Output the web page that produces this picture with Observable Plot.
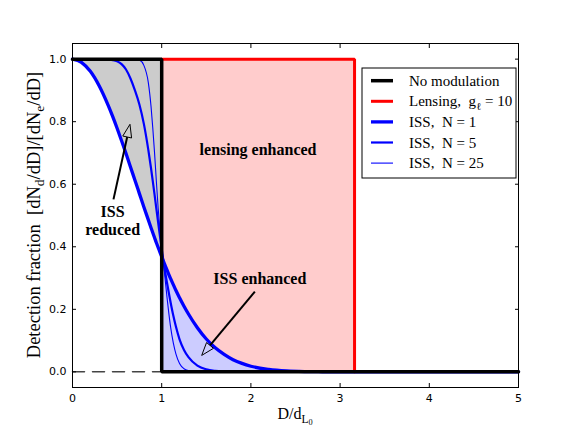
<!DOCTYPE html>
<html>
<head>
<meta charset="utf-8">
<script src="https://cdn.jsdelivr.net/npm/d3@7"></script>
<script src="https://cdn.jsdelivr.net/npm/@observablehq/plot@0.6"></script>
<style>
  body { margin: 0; background: #fff; }
  #chart { position: relative; width: 576px; height: 432px; }
  .rich { white-space: pre; }
</style>
</head>
<body>
<div id="chart"></div>
<script>
// Distance in units of the unmodulated detection limit, D / d_L0
const D = [0, 0.1, 0.2, 0.3, 0.4, 0.45, 0.5, 0.55, 0.6, 0.65, 0.7, 0.75, 0.8, 0.85,
  0.88, 0.9, 0.92, 0.94, 0.96, 0.98, 1.0, 1.02, 1.04, 1.06, 1.08, 1.1,
  1.13, 1.16, 1.2, 1.25, 1.3, 1.4, 1.5, 1.6, 1.7, 1.8, 1.9, 2.0,
  2.2, 2.4, 2.6, 2.8, 3.0, 3.162, 3.5, 4.0, 5.0];

// Detection fraction under interstellar scintillation, N independent scintles
const issN1 = [1.000, 0.990, 0.961, 0.914, 0.852, 0.817, 0.779, 0.739, 0.698, 0.655, 0.613, 0.570, 0.527, 0.486,
  0.461, 0.445, 0.429, 0.413, 0.398, 0.383, 0.368, 0.353, 0.339, 0.325, 0.311, 0.298,
  0.279, 0.260, 0.237, 0.210, 0.185, 0.141, 0.105, 0.077, 0.056, 0.039, 0.027, 0.018,
  0.008, 0.003, 0.001, 0.0004, 0.0001, 0, 0, 0, 0];
const issN5 = [1, 1, 1, 1, 0.999, 0.997, 0.993, 0.984, 0.967, 0.938, 0.900, 0.855, 0.793, 0.710,
  0.652, 0.610, 0.567, 0.522, 0.478, 0.435, 0.393, 0.353, 0.317, 0.284, 0.252, 0.222,
  0.180, 0.144, 0.104, 0.070, 0.047, 0.020, 0.008, 0.003, 0.001, 0.0003, 0, 0,
  0, 0, 0, 0, 0, 0, 0, 0, 0];
const issN25 = [1, 1, 1, 1, 1, 1, 1, 1, 1, 1, 1, 0.997, 0.980, 0.925,
  0.850, 0.780, 0.700, 0.610, 0.525, 0.455, 0.400, 0.350, 0.292, 0.237, 0.187, 0.143,
  0.093, 0.057, 0.027, 0.010, 0.004, 0.0005, 0, 0, 0, 0, 0, 0,
  0, 0, 0, 0, 0, 0, 0, 0, 0];

// Step responses: no modulation, and lensing with gain g = 10 (cut-off at sqrt(10))
const noModD = [0, 1, 1, 5];
const noModFrac = [1, 1, 0, 0];
const lensD = [1, 3.162, 3.162];
const lensFrac = [1, 1, 0];
const baselineD = [0, 1];
const baselineFrac = [0, 0];

// Axis ticks
const xTicks = [0, 1, 2, 3, 4, 5];
const yTicks = [0, 0.2, 0.4, 0.6, 0.8, 1.0];

// Labels
const xLabel = "D/d_{L_{0}}";
const yLabel = "Detection fraction  [dN_{d}/dD]/[dN_{e}/dD]";
const legendLabels = ["No modulation", "Lensing,  g_{ℓ} = 10", "ISS,  N = 1", "ISS,  N = 5", "ISS,  N = 25"];

// Annotations (text anchor and arrow tail/tip in data units)
const noteText = ["lensing enhanced", "ISS\nreduced", "ISS enhanced"];
const noteD = [2.08, 0.45, 2.1];
const noteFrac = [0.71, 0.484, 0.30];
const arrowTailD = [0.465, 2.05];
const arrowTailFrac = [0.55, 0.255];
const arrowTipD = [0.65, 1.454];
const arrowTipFrac = [0.79, 0.051];

// ---- drawing ----
const rows = D.map((d, i) => ({D: d, n1: issN1[i], n5: issN5[i], n25: issN25[i]}));
const pts = (xs, ys) => xs.map((x, i) => ({x, y: ys[i]}));
const notes = noteText.map((t, i) => ({t, x: noteD[i], y: noteFrac[i]}));

const serif = "'Liberation Serif', 'Times New Roman', serif";
const curve = "monotone-x";

const plot = Plot.plot({
  width: 576,
  height: 432,
  marginLeft: 72,
  marginRight: 58,
  marginTop: 43,
  marginBottom: 45,
  x: {domain: [0, 5], label: null},
  y: {domain: [-0.05, 1.05], label: null},
  style: {fontFamily: "'DejaVu Sans', sans-serif", fontSize: "11px", background: "white", color: "black"},
  marks: [
    // ISS-reduced region (below the unmodulated cut-off)
    Plot.areaY(rows.filter(r => r.D <= noModD[1]), {x: "D", y1: "n1", y2: noModFrac[0], fill: "#cccccc", curve}),
    // Lensing-enhanced region
    Plot.areaY(rows.filter(r => r.D >= lensD[0] && r.D <= lensD[1]), {x: "D", y1: "n1", y2: lensFrac[0], fill: "#ffcccc", curve}),
    // ISS-enhanced region
    Plot.areaY(rows.filter(r => r.D >= noModD[1]), {x: "D", y1: 0, y2: "n1", fill: "#ccccff", curve}),
    Plot.line(pts(baselineD, baselineFrac), {x: "x", y: "y", stroke: "#444", strokeWidth: 1.5, strokeDasharray: "12,8"}),
    Plot.line(rows, {x: "D", y: "n1", stroke: "#0000ff", strokeWidth: 3.3, curve}),
    Plot.line(rows, {x: "D", y: "n5", stroke: "#0000ff", strokeWidth: 2.2, curve}),
    Plot.line(rows, {x: "D", y: "n25", stroke: "#0000ff", strokeWidth: 1.1, curve}),
    Plot.line(pts(lensD, lensFrac), {x: "x", y: "y", stroke: "#ff0000", strokeWidth: 3, strokeLinejoin: "miter"}),
    Plot.line(pts(noModD, noModFrac), {x: "x", y: "y", stroke: "black", strokeWidth: 3.5, strokeLinejoin: "miter"}),
    Plot.text(notes, {x: "x", y: "y", text: "t", fontFamily: serif, fontWeight: "bold", fontSize: 16, lineHeight: 1.08, fill: "black"}),
    Plot.frame({stroke: "black"}),
    Plot.axisX({ticks: xTicks, tickSize: 0, tickPadding: 7, tickFormat: d => String(d), label: null}),
    Plot.axisX({ticks: xTicks, tickSize: 4, dy: -4, tickFormat: () => "", label: null}),
    Plot.axisX({anchor: "top", ticks: xTicks, tickSize: 4, dy: 4, tickFormat: () => "", label: null}),
    Plot.axisY({ticks: yTicks, tickSize: 0, tickPadding: 6, tickFormat: d3.format(".1f"), label: null}),
    Plot.axisY({ticks: yTicks, tickSize: 4, dx: 4, tickFormat: () => "", label: null}),
    Plot.axisY({anchor: "right", ticks: yTicks, tickSize: 4, dx: -4, tickFormat: () => "", label: null})
  ]
});
document.getElementById("chart").appendChild(plot);

const sx = plot.scale("x"), sy = plot.scale("y");
const svg = d3.select(plot);

// Text with nested _{...} subscripts
function richText(sel, str, size) {
  let shift = 0;
  function emit(text, level) {
    if (!text) return;
    let target = 0;
    for (let k = 0; k < level; k++) target += size * 0.22 * Math.pow(0.75, k);
    sel.append("tspan").attr("font-size", size * Math.pow(0.72, level)).attr("dy", target - shift).text(text);
    shift = target;
  }
  function parse(s, level) {
    let buf = "";
    for (let i = 0; i < s.length; i++) {
      if (s[i] === "_" && s[i + 1] === "{") {
        emit(buf, level); buf = "";
        let depth = 1, j = i + 2;
        while (j < s.length && depth > 0) { if (s[j] === "{") depth++; else if (s[j] === "}") depth--; j++; }
        parse(s.slice(i + 2, j - 1), level + 1);
        i = j - 1;
      } else buf += s[i];
    }
    emit(buf, level);
  }
  parse(str, 0);
}

// Arrows with open triangular heads
const arrows = svg.append("g");
arrowTipD.forEach((_, i) => {
  const x1 = sx.apply(arrowTailD[i]), y1 = sy.apply(arrowTailFrac[i]);
  const x2 = sx.apply(arrowTipD[i]), y2 = sy.apply(arrowTipFrac[i]);
  const len = Math.hypot(x2 - x1, y2 - y1), ux = (x2 - x1) / len, uy = (y2 - y1) / len;
  const hl = 13, hw = 4.5, bx = x2 - ux * hl, by = y2 - uy * hl;
  arrows.append("line").attr("x1", x1).attr("y1", y1).attr("x2", bx).attr("y2", by)
    .attr("stroke", "black").attr("stroke-width", 2);
  arrows.append("path")
    .attr("d", `M${x2},${y2}L${bx - uy * hw},${by + ux * hw}L${bx + uy * hw},${by - ux * hw}Z`)
    .attr("fill", "none").attr("stroke", "black").attr("stroke-width", 1);
});

// Axis titles
const [r0, r1] = sx.range, [b0, b1] = sy.range;
const xt = svg.append("text").attr("class", "rich").attr("x", (r0 + r1) / 2).attr("y", 419)
  .attr("text-anchor", "middle").attr("font-family", serif).attr("fill", "black");
richText(xt, xLabel, 16);
const yt = svg.append("text").attr("class", "rich")
  .attr("transform", `translate(40,${(b0 + b1) / 2}) rotate(-90)`)
  .attr("text-anchor", "middle").attr("font-family", serif).attr("fill", "black");
richText(yt, yLabel, 18.5);

// Legend
const legendStroke = ["black", "#ff0000", "#0000ff", "#0000ff", "#0000ff"];
const legendWidth = [3.5, 3, 3.3, 2.2, 1.1];
const lg = svg.append("g").attr("transform", "translate(362,68)");
lg.append("rect").attr("width", 154).attr("height", 110).attr("fill", "white").attr("stroke", "black");
legendLabels.forEach((lab, i) => {
  const cy = 12.7 + i * 20.6;
  lg.append("line").attr("x1", 9).attr("x2", 31).attr("y1", cy).attr("y2", cy)
    .attr("stroke", legendStroke[i]).attr("stroke-width", legendWidth[i]);
  const t = lg.append("text").attr("class", "rich").attr("x", 47).attr("y", cy + 5)
    .attr("text-anchor", "start").attr("font-family", serif).attr("fill", "black");
  richText(t, lab, 15);
});
</script>
</body>
</html>
